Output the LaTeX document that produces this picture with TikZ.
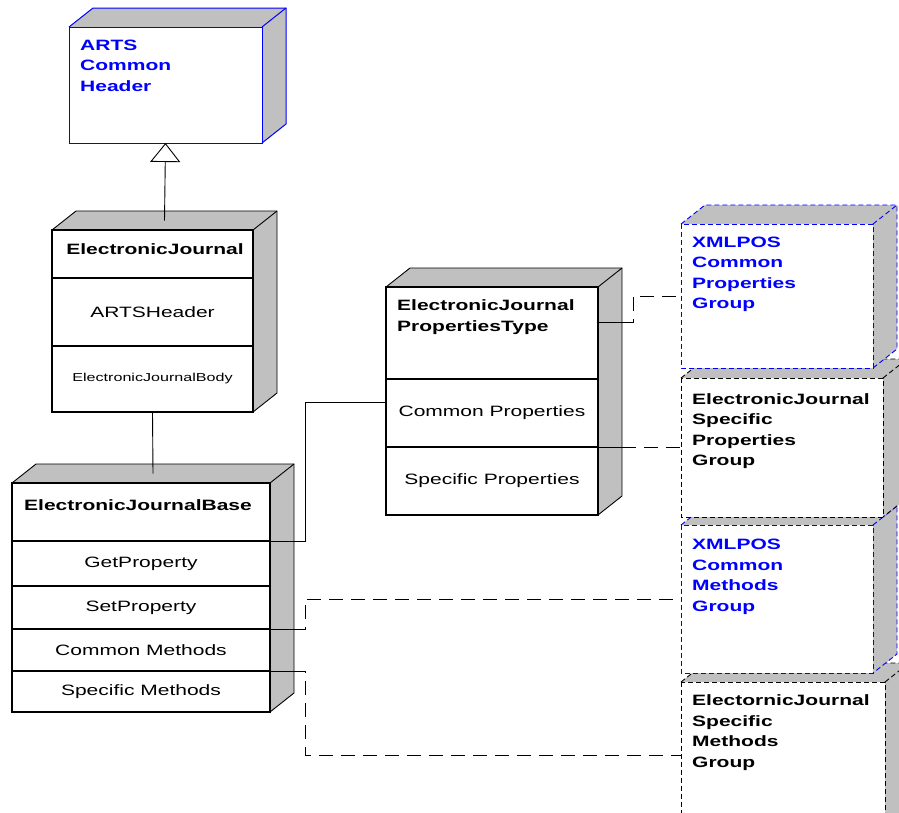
\documentclass[tikz,border=0pt]{standalone}
\usepackage{fontspec}
\setmainfont[FakeStretch=1.4]{Liberation Sans}
\usetikzlibrary{arrows.meta, positioning, calc}

\definecolor{sidegray}{RGB}{192,192,192}
\newcommand{\boxtitlefont}{\fontsize{15}{20.5}\selectfont\bfseries}
\newcommand{\rowfont}{\fontsize{15}{18}\selectfont}
\newcommand{\smallrowfont}{\fontsize{11.5}{14}\selectfont}

% grey top and right faces of a box, front outline drawn again on top
\newcommand{\boxdepth}[3][]{%
  \fill[sidegray] (#2.north west) -- ++(24,-19) -- ([shift={(24,-19)}]#2.north east)
    -- ([shift={(24,-19)}]#3.south east) -- (#3.south east) -- (#2.north east) -- cycle;
  \draw[line width=0.9pt, #1] (#2.north west) -- ++(24,-19) -- ([shift={(24,-19)}]#2.north east)
    -- ([shift={(24,-19)}]#3.south east) -- (#3.south east);
  \draw[line width=0.9pt, #1] (#2.north east) -- ++(24,-19);
  \draw[line width=1.2pt, #1] (#2.north west) rectangle (#3.south east);
}

\begin{document}
\begin{tikzpicture}[x=1pt, y=-1pt,
    titlebox/.style={draw, fill=white, line width=1.2pt, inner sep=0pt, outer sep=0pt, anchor=north west},
    rowbox/.style={draw, fill=white, line width=1.2pt, inner sep=0pt, outer sep=0pt, font=\rowfont},
    grpbox/.style={fill=white, inner sep=0pt, outer sep=0pt, anchor=north west},
    ttl/.style={anchor=north west, inner sep=0pt, align=left, font=\boxtitlefont, xshift=11pt, yshift=-12.5pt},
    ttlc/.style={anchor=north, inner sep=0pt, font=\boxtitlefont},
    conn/.style={line width=0.9pt},
    dconn/.style={line width=0.9pt, dash pattern=on 14pt off 8pt},
    dashbox/.style={line width=0.9pt, dash pattern=on 5pt off 3pt}
  ]
  \useasboundingbox (0,0) rectangle (899,812);
  \clip (0,0) rectangle (899,812);

  % ARTS header
  \node[grpbox, minimum width=193pt, minimum height=116pt,
        label={[ttl, text=blue]north west:{ARTS\\Common\\Header}}] (arts) at (69,27) {};
  \boxdepth[draw=blue, line width=1pt]{arts}{arts}

  % ElectronicJournal
  \node[titlebox, minimum width=201pt, minimum height=48pt,
        label={[ttlc, xshift=2.5pt, yshift=-13.5pt]north:{ElectronicJournal}}] (ej) at (52,230) {};
  \node[rowbox, minimum width=201pt, minimum height=68pt, below=0pt of ej] (ejhead) {ARTSHeader};
  \node[rowbox, minimum width=201pt, minimum height=66pt, below=0pt of ejhead, font=\smallrowfont] (ejbody) {ElectronicJournalBody};
  \boxdepth{ej}{ejbody}

  % ElectronicJournalBase
  \node[titlebox, minimum width=258pt, minimum height=58pt,
        label={[ttlc, xshift=-3pt, yshift=-16.5pt]north:{ElectronicJournalBase}}] (bt) at (12,483) {};
  \node[rowbox, minimum width=258pt, minimum height=45pt, below=0pt of bt] (bget) {GetProperty};
  \node[rowbox, minimum width=258pt, minimum height=43pt, below=0pt of bget] (bset) {SetProperty};
  \node[rowbox, minimum width=258pt, minimum height=42pt, below=0pt of bset] (bcom) {Common Methods};
  \node[rowbox, minimum width=258pt, minimum height=41pt, below=0pt of bcom] (bspec) {Specific Methods};
  \boxdepth{bt}{bspec}

  % ElectronicJournalPropertiesType
  \node[titlebox, minimum width=212pt, minimum height=92pt,
        label={[ttl]north west:{ElectronicJournal\\PropertiesType}}] (pt) at (386,287) {};
  \node[rowbox, minimum width=212pt, minimum height=68pt, below=0pt of pt] (ptcom) {Common Properties};
  \node[rowbox, minimum width=212pt, minimum height=68pt, below=0pt of ptcom] (ptspec) {Specific Properties};
  \boxdepth{pt}{ptspec}

  % groups, lowest first
  \node[grpbox, minimum width=204pt, minimum height=146pt,
        label={[ttl]north west:{ElectornicJournal\\Specific\\Methods\\Group}}] (ejsm) at (681,682) {};
  \boxdepth[dashbox]{ejsm}{ejsm}
  \node[grpbox, minimum width=192pt, minimum height=148pt,
        label={[ttl, text=blue, yshift=-1.5pt]north west:{XMLPOS\\Common\\Methods\\Group}}] (xcm) at (681,525) {};
  \boxdepth[dashbox, draw=blue]{xcm}{xcm}
  \node[grpbox, minimum width=202pt, minimum height=139pt,
        label={[ttl, yshift=-2.5pt]north west:{ElectronicJournal\\Specific\\Properties\\Group}}] (ejsp) at (681,378) {};
  \boxdepth[dashbox]{ejsp}{ejsp}
  \node[grpbox, minimum width=192pt, minimum height=144pt,
        label={[ttl, text=blue]north west:{XMLPOS\\Common\\Properties\\Group}}] (xcp) at (681,224) {};
  \boxdepth[dashbox, draw=blue]{xcp}{xcp}

  % connectors
  \draw[conn, -{Triangle[open, length=19pt, width=30pt]}] ([shift={(12,-9.5)}]ej.north) -- (arts.south);
  \draw[conn] (ejbody.south) -- ([shift={(12,-9.5)}]bt.north);
  \draw[conn] (bt.south east) -- ++(35,0) |- ([yshift=-23pt]ptcom.north west);

  \draw[conn] ([yshift=-35pt]pt.north east) -- ++(24,0) coordinate (s1);
  \draw[dconn] (s1) -- ++(11,0) |- (xcp.west);
  \draw[conn] (ptcom.south east) -- ++(24,0) coordinate (s2);
  \draw[dconn] (s2) -- (s2 -| ejsp.west);

  \draw[conn] (bset.south east) -- ++(23,0) coordinate (s3);
  \draw[dconn] (s3) -- ++(12,0) |- (xcm.west);
  \draw[conn] (bcom.south east) -- ++(23,0) coordinate (s4);
  \draw[dconn] (s4) -- ++(12,0) |- (ejsm.west);
\end{tikzpicture}
\end{document}
